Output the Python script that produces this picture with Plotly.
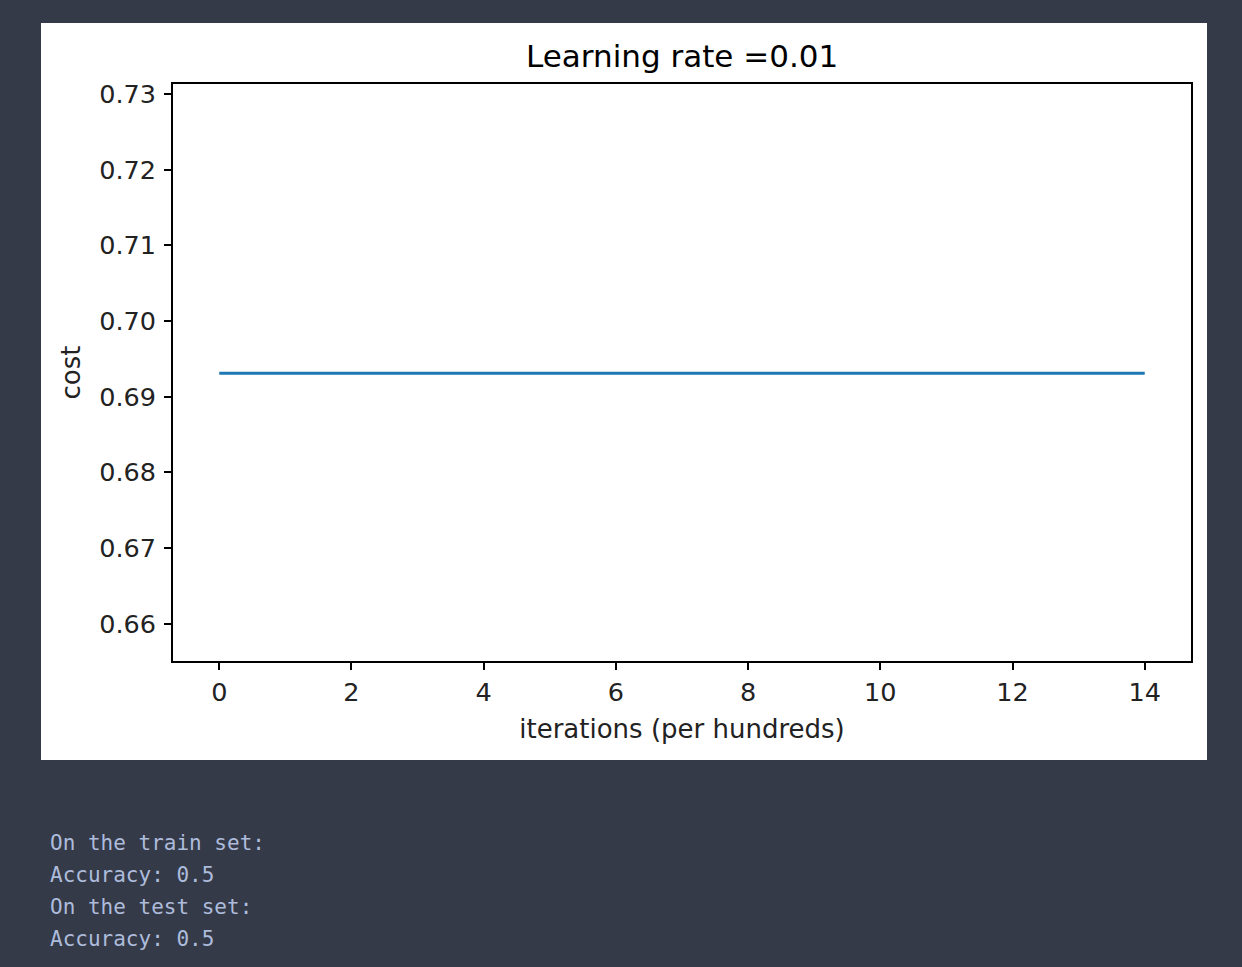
import plotly.graph_objects as go

# cost per hundred iterations (flat at ~ln 2)
iterations = [0, 1, 2, 3, 4, 5, 6, 7, 8, 9, 10, 11, 12, 13, 14]
costs = [0.6931, 0.6931, 0.6931, 0.6931, 0.6931, 0.6931, 0.6931, 0.6931,
         0.6931, 0.6931, 0.6931, 0.6931, 0.6931, 0.6931, 0.6931]
x_ticks = [0, 2, 4, 6, 8, 10, 12, 14]
y_ticks = [0.66, 0.67, 0.68, 0.69, 0.70, 0.71, 0.72, 0.73]
y_tick_text = ["0.66", "0.67", "0.68", "0.69", "0.70", "0.71", "0.72", "0.73"]
output_lines = ["On the train set:", "Accuracy: 0.5", "On the test set:", "Accuracy: 0.5"]

W, H = 1242, 967
L, R, T, B = 173, 1191, 84, 661  # plot area in pixels
BG = "#343a48"


def px_x(x):
    return (x - L) / (R - L)


def px_y(y):
    return (B - y) / (B - T)


fig = go.Figure()
fig.add_trace(
    go.Scatter(
        x=iterations,
        y=costs,
        mode="lines",
        line={"color": "#1f77b4", "width": 2.8},
        showlegend=False,
    )
)

# white figure panel behind the axes
fig.add_shape(
    type="rect", xref="paper", yref="paper",
    x0=px_x(41), x1=px_x(1207), y0=px_y(760), y1=px_y(23),
    fillcolor="white", line={"width": 0}, layer="below",
)

fig.add_annotation(
    xref="paper", yref="paper", x=0.5, y=px_y(56),
    text="Learning rate =0.01", showarrow=False,
    font={"family": "DejaVu Sans", "size": 31, "color": "black"},
    xanchor="center", yanchor="middle",
)

for i, line in enumerate(output_lines):
    fig.add_annotation(
        xref="paper", yref="paper", x=px_x(48), y=px_y(843 + 32 * i),
        text=line, showarrow=False,
        font={"family": "DejaVu Sans Mono", "size": 21, "color": "#aebcdc"},
        xanchor="left", yanchor="middle",
    )

label_font = {"family": "DejaVu Sans", "size": 26, "color": "#222"}
axis_common = dict(
    showline=True, mirror=True, linecolor="black", linewidth=1.8,
    ticks="outside", ticklen=7, tickwidth=1.6, tickcolor="black",
    showgrid=False, zeroline=False,
    tickfont={"family": "DejaVu Sans", "size": 25.5, "color": "#222"},
)

fig.update_layout(
    width=W, height=H,
    paper_bgcolor=BG, plot_bgcolor="white",
    margin={"l": L, "r": W - R, "t": T, "b": H - B},
    xaxis=dict(
        range=[-0.7, 14.7], tickvals=x_ticks,
        title={"text": "iterations (per hundreds)", "standoff": 14, "font": label_font},
        **axis_common,
    ),
    yaxis=dict(
        range=[0.6551, 0.7313], tickvals=y_ticks, ticktext=y_tick_text,
        ticklabelstandoff=3,
        title={"text": "cost", "standoff": 11, "font": label_font},
        **axis_common,
    ),
)

fig.write_html(
    "out.html",
    config={"displayModeBar": False},
    post_script="document.body.style.margin='0';document.body.style.background='%s';" % BG,
)
